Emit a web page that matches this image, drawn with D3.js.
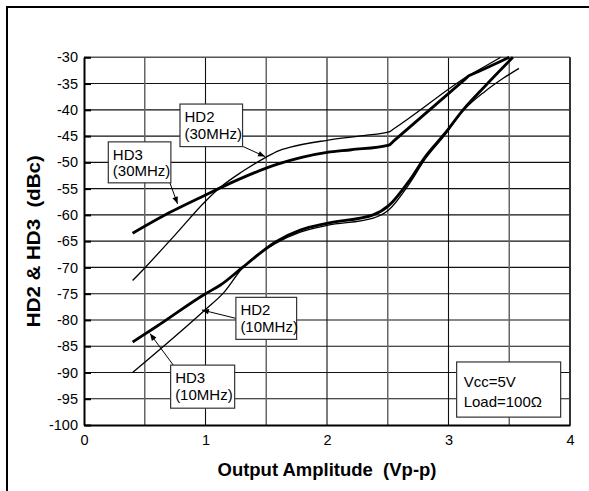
<!DOCTYPE html>
<html>
<head>
<meta charset="utf-8">
<script src="https://cdn.jsdelivr.net/npm/d3@7"></script>
<style>
  html, body { margin: 0; padding: 0; background: #fff; }
  svg { display: block; font-family: "Liberation Sans", Arial, sans-serif; }
  text { white-space: pre; }
</style>
</head>
<body>
<svg id="chart" width="589" height="491"></svg>
<script>
// Axis ranges and tick values
const xDomain = [0, 4];
const yDomain = [-100, -30];
const xTicks = [0, 1, 2, 3, 4];
const yTicks = [-100, -95, -90, -85, -80, -75, -70, -65, -60, -55, -50, -45, -40, -35, -30];
const xGrid = [0.5, 1, 1.5, 2, 2.5, 3, 3.5];

// Harmonic distortion curves: [output amplitude (Vp-p), level (dBc)]
const hd2_30MHz = [
  [0.4, -72.5], [0.5, -70.1], [0.75, -63.8], [1.0, -57.4], [1.12, -54.8],
  [1.3, -51.8], [1.5, -49.0], [1.6, -47.8], [1.7, -47.1], [2.0, -45.8],
  [2.3, -44.9], [2.51, -44.2], [2.55, -43.6], [3.13, -34.0], [3.17, -33.4],
  [3.21, -32.9], [3.43, -30.0]
];
const hd3_30MHz = [
  [0.4, -63.5], [0.7, -59.6], [1.0, -56.2], [1.2, -54.0], [1.4, -52.0],
  [1.6, -50.3], [1.8, -49.0], [2.0, -48.1], [2.2, -47.6], [2.51, -46.7],
  [2.55, -45.9], [3.13, -34.3], [3.17, -33.5], [3.21, -33.1], [3.5, -30.0]
];
const hd2_10MHz = [
  [0.4, -90.0], [1.0, -78.0], [1.15, -74.8], [1.3, -70.2], [1.58, -65.4],
  [1.78, -63.3], [2.0, -62.0], [2.38, -60.6], [2.51, -59.0], [2.68, -54.0],
  [2.81, -49.3], [2.97, -44.8], [3.12, -40.2], [3.3, -36.5], [3.45, -34.0],
  [3.58, -32.1]
];
const hd3_10MHz = [
  [0.4, -84.2], [0.6, -81.2], [1.0, -75.0], [1.12, -73.4], [1.31, -69.9],
  [1.58, -65.1], [1.78, -62.9], [2.0, -61.6], [2.38, -60.0], [2.51, -58.2],
  [2.68, -53.4], [2.81, -48.9], [2.97, -44.5], [3.12, -40.0], [3.3, -35.5],
  [3.53, -30.0]
];

const seriesList = [
  { name: "HD2 (30MHz)", points: hd2_30MHz, width: 1.3 },
  { name: "HD3 (30MHz)", points: hd3_30MHz, width: 2.8 },
  { name: "HD2 (10MHz)", points: hd2_10MHz, width: 1.3 },
  { name: "HD3 (10MHz)", points: hd3_10MHz, width: 2.8 }
];

// Callout boxes: text lines, box corners (x0, y0, x1, y1 in data units), arrow from -> to
const calloutLines = [["HD2", "(30MHz)"], ["HD3", "(30MHz)"], ["HD2", "(10MHz)"], ["HD3", "(10MHz)"]];
const calloutBoxes = [
  [0.79, -38.9, 1.305, -47.0],
  [0.20, -46.1, 0.715, -53.9],
  [1.25, -75.7, 1.75, -83.7],
  [0.713, -88.6, 1.24, -96.8]
];
const calloutArrows = [
  [[1.31, -47.0], [1.49, -48.9]],
  [[0.707, -53.9], [0.77, -57.9]],
  [[1.25, -79.7], [0.97, -78.1]],
  [[0.735, -88.6], [0.543, -82.6]]
];
const conditionLines = ["Vcc=5V", "Load=100\u03A9"];
const conditionBox = [3.067, -88.0, 3.923, -98.5];

const xTitle = "Output Amplitude  (Vp-p)";
const yTitle = "HD2 & HD3  (dBc)";

const svg = d3.select("#chart");
const margin = { left: 84, top: 57.3, right: 570, bottom: 425 };

const x = d3.scaleLinear().domain(xDomain).range([margin.left, margin.right]);
const y = d3.scaleLinear().domain(yDomain).range([margin.bottom, margin.top]);

// Outer frame
svg.append("rect")
  .attr("x", 7).attr("y", 7).attr("width", 620).attr("height", 520)
  .attr("fill", "none").attr("stroke", "#000").attr("stroke-width", 2);

// Grid
const grid = svg.append("g");
grid.selectAll("line.h").data(yTicks.filter(v => v > yDomain[0] && v < yDomain[1]))
  .join("line").attr("class", "h")
  .attr("x1", x(xDomain[0])).attr("x2", x(xDomain[1]))
  .attr("y1", d => y(d)).attr("y2", d => y(d))
  .attr("stroke", "#111").attr("stroke-width", 1.1);
grid.selectAll("line.v").data(xGrid)
  .join("line").attr("class", "v")
  .attr("y1", y(yDomain[0])).attr("y2", y(yDomain[1]))
  .attr("x1", d => x(d)).attr("x2", d => x(d))
  .attr("stroke", d => Number.isInteger(d) ? "#111" : "#666")
  .attr("stroke-width", d => Number.isInteger(d) ? 1.1 : 1.5);

// Top and right borders of the plot
svg.append("line")
  .attr("x1", x(xDomain[0])).attr("x2", x(xDomain[1]))
  .attr("y1", y(yDomain[1])).attr("y2", y(yDomain[1]))
  .attr("stroke", "#555").attr("stroke-width", 1.5);
svg.append("line")
  .attr("x1", x(xDomain[1])).attr("x2", x(xDomain[1]))
  .attr("y1", y(yDomain[1])).attr("y2", y(yDomain[0]))
  .attr("stroke", "#333").attr("stroke-width", 2);

// Axes
const tickFmt = d => String(d);
const yAxis = svg.append("g")
  .attr("transform", `translate(${x(xDomain[0])},0)`)
  .call(d3.axisLeft(y).tickValues(yTicks).tickSizeInner(-7).tickSizeOuter(0).tickPadding(6).tickFormat(tickFmt));
yAxis.select(".domain").attr("stroke", "#000").attr("stroke-width", 2);
yAxis.selectAll(".tick line").attr("stroke", "#000").attr("stroke-width", 2);
yAxis.selectAll(".tick text").attr("font-size", 14.5).attr("fill", "#000")
  .attr("font-family", "Liberation Sans, Arial, sans-serif");

const xAxis = svg.append("g")
  .attr("transform", `translate(0,${y(yDomain[0])})`)
  .call(d3.axisBottom(x).tickValues(xTicks).tickSize(0).tickPadding(10).tickFormat(tickFmt));
xAxis.select(".domain").attr("stroke", "#000").attr("stroke-width", 2);
xAxis.selectAll(".tick text").attr("font-size", 14.5).attr("fill", "#000")
  .attr("font-family", "Liberation Sans, Arial, sans-serif");

// Curves
const line = d3.line().x(d => x(d[0])).y(d => y(d[1])).curve(d3.curveMonotoneX);
svg.append("g").selectAll("path").data(seriesList).join("path")
  .attr("d", d => line(d.points))
  .attr("fill", "none").attr("stroke", "#000")
  .attr("stroke-width", d => d.width)
  .attr("stroke-linejoin", "round").attr("stroke-linecap", "butt");

// Arrowhead marker
svg.append("defs").append("marker")
  .attr("id", "arrow").attr("viewBox", "0 0 10 10")
  .attr("refX", 10).attr("refY", 5)
  .attr("markerWidth", 8).attr("markerHeight", 7)
  .attr("markerUnits", "userSpaceOnUse")
  .attr("orient", "auto")
  .append("path").attr("d", "M0,1 L10,5 L0,9 Z").attr("fill", "#000");

// Callout arrows
svg.append("g").selectAll("line").data(calloutArrows).join("line")
  .attr("x1", d => x(d[0][0])).attr("y1", d => y(d[0][1]))
  .attr("x2", d => x(d[1][0])).attr("y2", d => y(d[1][1]))
  .attr("stroke", "#000").attr("stroke-width", 1)
  .attr("marker-end", "url(#arrow)");

// Text box helper
function textBox(box, lines, firstBaseline, lineGap, padLeft) {
  const g = svg.append("g");
  const x0 = x(box[0]), y0 = y(box[1]), x1 = x(box[2]), y1 = y(box[3]);
  g.append("rect")
    .attr("x", x0).attr("y", y0).attr("width", x1 - x0).attr("height", y1 - y0)
    .attr("fill", "#fff").attr("stroke", "#333").attr("stroke-width", 1.2);
  g.selectAll("text").data(lines).join("text")
    .attr("x", x0 + padLeft)
    .attr("y", (d, i) => y0 + firstBaseline + i * lineGap)
    .attr("font-size", 15).attr("fill", "#000")
    .text(d => d);
}
calloutBoxes.forEach((b, i) => textBox(b, calloutLines[i], 18, 16.5, 4.5));
textBox(conditionBox, conditionLines, 25, 20, 7);

// Axis titles
svg.append("text")
  .attr("x", x(2)).attr("y", 476)
  .attr("text-anchor", "middle")
  .attr("font-size", 17.5).attr("font-weight", "bold")
  .attr("textLength", 219).attr("lengthAdjust", "spacingAndGlyphs")
  .text(xTitle);
svg.append("text")
  .attr("transform", `translate(39.5,${(y(yDomain[0]) + y(yDomain[1])) / 2}) rotate(-90)`)
  .attr("text-anchor", "middle")
  .attr("font-size", 17.5).attr("font-weight", "bold")
  .attr("textLength", 172).attr("lengthAdjust", "spacingAndGlyphs")
  .text(yTitle);
</script>
</body>
</html>
